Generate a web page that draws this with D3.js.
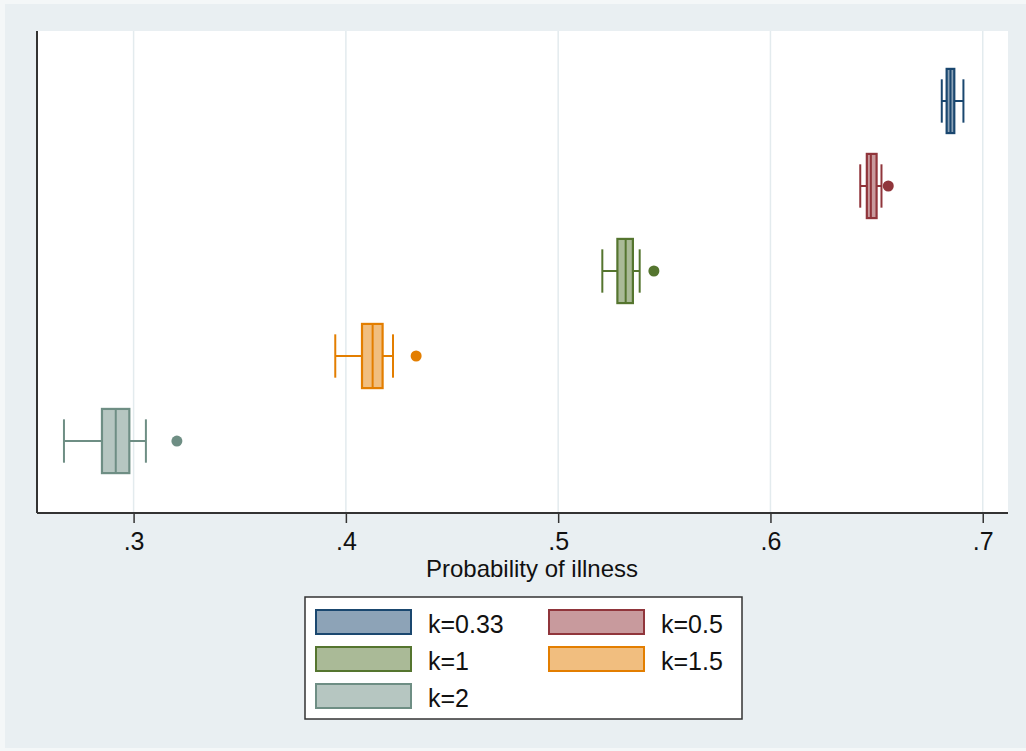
<!DOCTYPE html>
<html>
<head>
<meta charset="utf-8">
<script src="https://cdn.jsdelivr.net/npm/d3@7"></script>
<style>
  html, body { margin: 0; padding: 0; background: #f4f7f8; }
  svg { display: block; font-family: "Liberation Sans", Arial, sans-serif; }
</style>
</head>
<body>
<svg id="chart" width="1026" height="751"></svg>
<script>
// groups, top to bottom
const groups = ["k=0.33", "k=0.5", "k=1", "k=1.5", "k=2"];
const lowerWhisker = [0.6807, 0.6423, 0.5208, 0.3950, 0.2672];
const q1 = [0.6830, 0.6454, 0.5279, 0.4076, 0.2851];
const median = [0.6848, 0.6473, 0.5318, 0.4126, 0.2916];
const q3 = [0.6866, 0.6500, 0.5352, 0.4173, 0.2980];
const upperWhisker = [0.6909, 0.6523, 0.5384, 0.4222, 0.3058];
const outliers = [[], [0.6555], [0.5451], [0.4331], [0.3204]];

const xTicks = [0.3, 0.4, 0.5, 0.6, 0.7];
const xTitle = "Probability of illness";

const lineColors = ["#1a476f", "#90353b", "#55752f", "#e37e00", "#6e8e84"];
const fillColors = ["#8da3b7", "#c89a9d", "#aaba97", "#f1be7f", "#b6c6c1"];

const data = groups.map((g, i) => ({
  group: g, lw: lowerWhisker[i], q1: q1[i], med: median[i], q3: q3[i], uw: upperWhisker[i],
  out: outliers[i], line: lineColors[i], fill: fillColors[i]
}));

const svg = d3.select("#chart");

// outer background
svg.append("rect")
  .attr("x", 5).attr("y", 4).attr("width", 1021).attr("height", 744)
  .attr("fill", "#e9eff2");

const plot = { left: 37, right: 1008, top: 31, bottom: 513 };

svg.append("rect")
  .attr("x", plot.left).attr("y", plot.top)
  .attr("width", plot.right - plot.left).attr("height", plot.bottom - plot.top)
  .attr("fill", "#ffffff");

const x = d3.scaleLinear()
  .domain([0.2545, 0.7119])
  .range([plot.left, plot.right]);

const y = d3.scalePoint()
  .domain(groups)
  .range([30, 512])
  .padding(0.835);

const step = y.step();
const boxH = step * 0.755;
const capH = step * 0.51;

// vertical gridlines
svg.append("g")
  .selectAll("line")
  .data(xTicks)
  .enter().append("line")
  .attr("x1", d => x(d)).attr("x2", d => x(d))
  .attr("y1", plot.top).attr("y2", plot.bottom)
  .attr("stroke", "#e3ebee")
  .attr("stroke-width", 1.5);

// x axis
const xAxis = svg.append("g")
  .attr("transform", `translate(0,${plot.bottom})`)
  .call(d3.axisBottom(x).tickValues(xTicks).tickSize(10).tickPadding(9)
    .tickFormat(d => d3.format(".1f")(d).replace(/^0/, "")));

xAxis.select(".domain")
  .attr("stroke", "#333333")
  .attr("stroke-width", 2)
  .attr("d", `M${plot.left},0H${plot.right}`);
xAxis.selectAll(".tick line").attr("stroke", "#333333").attr("stroke-width", 1.5);
xAxis.selectAll(".tick text")
  .attr("fill", "#111111")
  .style("font-size", "25px")
  .attr("dy", "0.71em");

// y axis line (no labels)
svg.append("line")
  .attr("x1", plot.left).attr("x2", plot.left)
  .attr("y1", plot.top).attr("y2", plot.bottom)
  .attr("stroke", "#333333").attr("stroke-width", 2);

// axis title, centred a bit left of the middle tick as in the original
svg.append("text")
  .attr("x", 532)
  .attr("y", 577)
  .attr("text-anchor", "middle")
  .attr("fill", "#111111")
  .style("font-size", "24px")
  .text(xTitle);

// boxes
const box = svg.append("g")
  .selectAll("g")
  .data(data)
  .enter().append("g")
  .attr("transform", d => `translate(0,${y(d.group)})`);

// whiskers
box.append("line")
  .attr("x1", d => x(d.lw)).attr("x2", d => x(d.q1))
  .attr("y1", 0).attr("y2", 0)
  .attr("stroke", d => d.line).attr("stroke-width", 2);
box.append("line")
  .attr("x1", d => x(d.q3)).attr("x2", d => x(d.uw))
  .attr("y1", 0).attr("y2", 0)
  .attr("stroke", d => d.line).attr("stroke-width", 2);

// caps
box.append("line")
  .attr("x1", d => x(d.lw)).attr("x2", d => x(d.lw))
  .attr("y1", -capH / 2).attr("y2", capH / 2)
  .attr("stroke", d => d.line).attr("stroke-width", 2);
box.append("line")
  .attr("x1", d => x(d.uw)).attr("x2", d => x(d.uw))
  .attr("y1", -capH / 2).attr("y2", capH / 2)
  .attr("stroke", d => d.line).attr("stroke-width", 2);

// box body
box.append("rect")
  .attr("x", d => x(d.q1))
  .attr("width", d => x(d.q3) - x(d.q1))
  .attr("y", -boxH / 2)
  .attr("height", boxH)
  .attr("fill", d => d.fill)
  .attr("stroke", d => d.line)
  .attr("stroke-width", 2.2);

// median
box.append("line")
  .attr("x1", d => x(d.med)).attr("x2", d => x(d.med))
  .attr("y1", -boxH / 2).attr("y2", boxH / 2)
  .attr("stroke", d => d.line).attr("stroke-width", 2);

// outside values
box.selectAll("circle")
  .data(d => d.out.map(v => ({ v, c: d.line })))
  .enter().append("circle")
  .attr("cx", d => x(d.v))
  .attr("cy", 0)
  .attr("r", 5.5)
  .attr("fill", d => d.c);

// legend
const legend = svg.append("g");
legend.append("rect")
  .attr("x", 305).attr("y", 597)
  .attr("width", 437).attr("height", 122)
  .attr("fill", "#ffffff")
  .attr("stroke", "#333333")
  .attr("stroke-width", 1.5);

const colX = [315, 548];
const rowY = [609, 646, 683];

const item = legend.selectAll("g.item")
  .data(data)
  .enter().append("g")
  .attr("class", "item")
  .attr("transform", (d, i) => `translate(${colX[i % 2]},${rowY[Math.floor(i / 2)]})`);

item.append("rect")
  .attr("x", 1).attr("y", 1)
  .attr("width", 95).attr("height", 24)
  .attr("fill", d => d.fill)
  .attr("stroke", d => d.line)
  .attr("stroke-width", 2);

item.append("text")
  .attr("x", 113)
  .attr("y", 23.5)
  .attr("fill", "#111111")
  .style("font-size", "25px")
  .text(d => d.group);
</script>
</body>
</html>
